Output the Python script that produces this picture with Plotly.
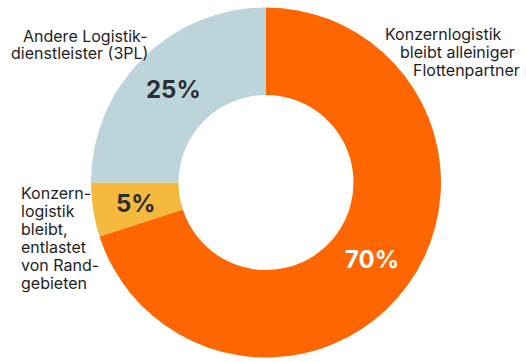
import math
import plotly.graph_objects as go

# Data
categories = [
    "Konzernlogistik bleibt alleiniger Flottenpartner",
    "Konzernlogistik bleibt, entlastet von Randgebieten",
    "Andere Logistikdienstleister (3PL)",
]
values = [70, 5, 25]
colors = ["#FF6600", "#F5B93E", "#BCD5DA"]
pct_colors = ["#FFFFFF", "#2A2F33", "#2A2F33"]

label_a_lines = ["Andere Logistik-", "dienstleister (3PL)"]
label_b_lines = ["Konzernlogistik", "bleibt alleiniger", "Flottenpartner"]
label_c_lines = ["Konzern-", "logistik", "bleibt,", "entlastet", "von Rand-", "gebieten"]

W, H = 526, 362
FONT = "Inter, Noto Sans, sans-serif"

# donut geometry (pixels)
CX, CY, R = 266, 182.5, 175
HOLE = 0.5

fig = go.Figure(go.Pie(
    labels=categories,
    values=values,
    sort=False,
    direction="clockwise",
    rotation=0,
    hole=HOLE,
    marker=dict(colors=colors, line=dict(width=0)),
    textinfo="none",
    hoverinfo="label+percent",
    domain=dict(x=[(CX - R) / W, (CX + R) / W],
                y=[(H - CY - R) / H, (H - CY + R) / H]),
    showlegend=False,
))

def px(x):
    return x / W

def py(y):
    return 1 - y / H

ann = []

# percentage labels at mid-angle, mid-radius of each slice
total = sum(values)
r_mid = R * (1 + HOLE) / 2
cum = 0
for v, c in zip(values, pct_colors):
    mid = (cum + v / 2) / total * 2 * math.pi
    cum += v
    x = CX + r_mid * math.sin(mid)
    y = CY - r_mid * math.cos(mid)
    ann.append(dict(x=px(x), y=py(y), text=f"{round(v / total * 100)}%",
                    xanchor="center", yanchor="middle",
                    font=dict(family=FONT, size=24, color=c, weight="bold")))

FS = 16
off = 0.36 * FS  # baseline -> middle of text box
pad = 2
lab_font = dict(family=FONT, size=FS, color="#1E1E1E")
# label A: right aligned
for t, b in zip(label_a_lines, [41.7, 58.5]):
    ann.append(dict(x=px(147.5 + pad), y=py(b - off), text=t, xanchor="right",
                    yanchor="middle", font=lab_font))
# label B: staggered
for t, x, b in zip(label_b_lines, [385, 400, 413], [40.0, 58.0, 75.7]):
    ann.append(dict(x=px(x - pad), y=py(b - off), text=t, xanchor="left",
                    yanchor="middle", font=lab_font))
# label C: left aligned
for i, t in enumerate(label_c_lines):
    b = 198.8 + i * 18.0
    ann.append(dict(x=px(21 - pad), y=py(b - off), text=t, xanchor="left",
                    yanchor="middle", font=lab_font))

for a in ann:
    a.update(xref="paper", yref="paper", showarrow=False)

fig.update_layout(
    width=W, height=H,
    margin=dict(l=0, r=0, t=0, b=0),
    paper_bgcolor="white",
    plot_bgcolor="white",
    annotations=ann,
)

fig.write_html("out.html",
               config={"displayModeBar": False},
               post_script="document.body.style.margin='0';document.body.style.overflow='hidden';")
